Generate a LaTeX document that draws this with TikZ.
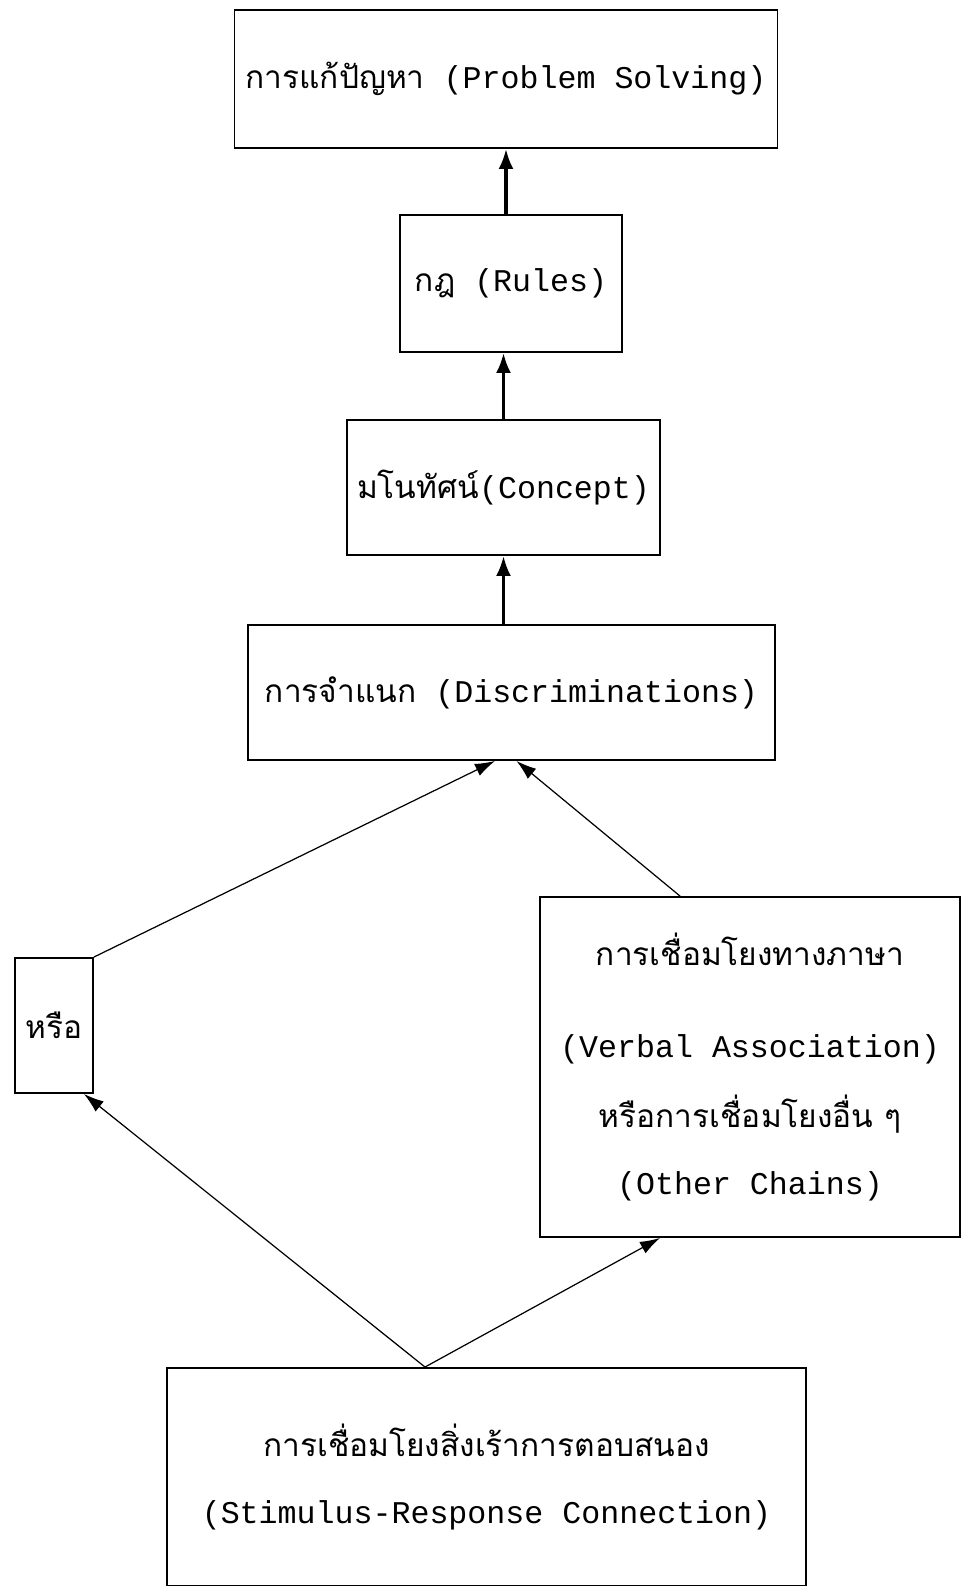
\documentclass[tikz,border=0pt]{standalone}
\usepackage{fontspec}
\setmainfont{Liberation Mono}
\newfontfamily\thai[Script=Thai]{Loma}
\usetikzlibrary{arrows.meta, calc}

\begin{document}
\begin{tikzpicture}[
    stage/.style={draw, line width=1.1pt, font=\fontsize{18}{38}\selectfont, align=center, inner sep=0pt},
    arrow/.style={-{Latex[length=4mm, width=2.6mm]}, line width=0.7pt},
    uparrow/.style={-{Latex[length=4mm, width=3mm]}, line width=1.8pt}
]
    \useasboundingbox (0,0) rectangle (19.4,-31.72);

    % Chain of stages
    \node[stage, minimum width=10.86cm, minimum height=2.76cm] (solve) at (10.12,-1.58) {{\thai การแก้ปัญหา} (Problem Solving)};
    \node[stage, minimum width=4.44cm, minimum height=2.74cm] (rules) at (10.22,-5.67) {{\thai กฎ} (Rules)};
    \node[stage, minimum width=6.26cm, minimum height=2.7cm] (concept) at (10.07,-9.75) {{\thai มโนทัศน์}(Concept)};
    \node[stage, minimum width=10.54cm, minimum height=2.7cm] (discrim) at (10.23,-13.85) {{\thai การจำแนก} (Discriminations)};

    % Lower branches
    \node[stage, minimum width=1.56cm, minimum height=2.7cm] (or) at (1.08,-20.51) {\thai หรือ};
    \node[stage, minimum width=8.4cm, minimum height=6.8cm] (verbal) at (15.0,-21.34) {{\thai การเชื่อมโยงทางภาษา}\\[14pt] (Verbal Association)\\[2pt] {\thai หรือการเชื่อมโยงอื่น ๆ}\\ (Other Chains)};
    \node[stage, minimum width=12.78cm, minimum height=4.36cm] (sr) at (9.73,-29.54) {{\thai การเชื่อมโยงสิ่งเร้าการตอบสนอง}\\ (Stimulus-Response Connection)};

    % Connections
    \draw[uparrow] (rules.north -| solve.south) -- (solve.south);
    \draw[uparrow] (concept.north) -- (rules.south -| concept.north);
    \draw[uparrow] (discrim.north -| concept.south) -- (concept.south);
    \draw[arrow] (or.north east) -- ($(discrim.south)+(-0.33,0)$);
    \draw[arrow] ($(verbal.north)+(-1.4,0)$) -- ($(discrim.south)+(0.1,0)$);
    \draw[arrow] ($(sr.north)+(-1.23,0)$) -- ($(or.south east)+(-0.2,0)$);
    \draw[arrow] ($(sr.north)+(-1.23,0)$) -- ($(verbal.south)+(-1.8,0)$);
\end{tikzpicture}
\end{document}
